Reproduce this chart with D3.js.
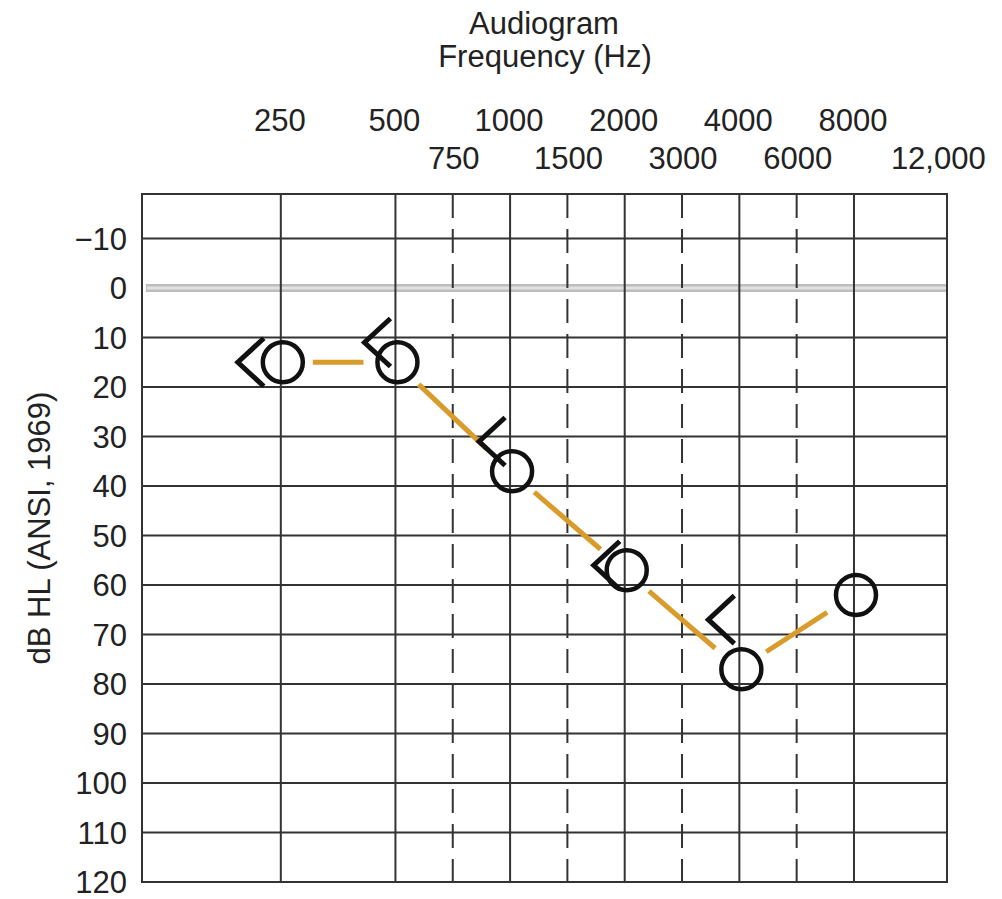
<!DOCTYPE html>
<html>
<head>
<meta charset="utf-8">
<script src="https://cdn.jsdelivr.net/npm/d3@7"></script>
<style>
  body { margin: 0; background: #fff; }
  text { font-family: "Liberation Sans", Arial, Helvetica, sans-serif; fill: #222; }
</style>
</head>
<body>
<svg id="chart" width="1002" height="899"></svg>
<script>
// octave frequencies (solid lines, top row of labels)
var octaves = [250, 500, 1000, 2000, 4000, 8000];
// half-octave frequencies (dashed lines, second row of labels)
var halfOctaves = [750, 1500, 3000, 6000];
var extraLabel = "12,000";
// hearing level ticks
var dbTicks = [-10, 0, 10, 20, 30, 40, 50, 60, 70, 80, 90, 100, 110, 120];

// air conduction thresholds (O, right ear)
var airFreq = [250, 500, 1000, 2000, 4000, 8000];
var airDb = [15, 15, 37, 57, 77, 62];
// bone conduction thresholds (<, unmasked)
var boneFreq = [250, 500, 1000, 2000, 4000];
var boneDb = [15, 11, 31, 56, 67];

var svg = d3.select("#chart");
// note: "top" is reserved on window, so use plotX/plotY names
var plotL = 142, plotR = 947, plotT = 194, plotB = 882;

var x = d3.scaleLog().base(2).domain([108, 14040]).range([plotL, plotR]);
var y = d3.scaleLinear().domain([-19, 120]).range([plotT, plotB]);

// half octave lines sit midway between octaves on the chart
function halfX(f) { return x(f / 1.5 * Math.SQRT2); }

var ink = "#333";

// title
svg.append("text").attr("x", 544).attr("y", 34).attr("text-anchor", "middle")
	.attr("font-size", 31).text("Audiogram");
svg.append("text").attr("x", 545).attr("y", 67).attr("text-anchor", "middle")
	.attr("font-size", 31).text("Frequency (Hz)");

// frequency labels
svg.selectAll(".oct-label").data(octaves).enter().append("text")
	.attr("class", "oct-label")
	.attr("x", function(d) { return x(d) - 1; })
	.attr("y", 131)
	.attr("text-anchor", "middle")
	.attr("font-size", 31)
	.text(function(d) { return d; });
svg.selectAll(".half-label").data(halfOctaves).enter().append("text")
	.attr("class", "half-label")
	.attr("x", function(d) { return halfX(d) + 1; })
	.attr("y", 169)
	.attr("text-anchor", "middle")
	.attr("font-size", 31)
	.text(function(d) { return d; });
svg.append("text")
	.attr("x", halfX(12000) + 27)
	.attr("y", 169)
	.attr("text-anchor", "middle")
	.attr("font-size", 31)
	.text(extraLabel);

// horizontal grid
svg.selectAll(".hgrid").data(dbTicks.filter(function(d) { return d !== 0 && d !== 120; }))
	.enter().append("line")
	.attr("x1", plotL).attr("x2", plotR)
	.attr("y1", function(d) { return y(d); })
	.attr("y2", function(d) { return y(d); })
	.attr("stroke", ink).attr("stroke-width", 2);

// 0 dB reference line
svg.append("line")
	.attr("x1", plotL + 4).attr("x2", plotR)
	.attr("y1", y(0)).attr("y2", y(0))
	.attr("stroke", "#bdbdbd").attr("stroke-width", 8);
svg.append("line")
	.attr("x1", plotL + 5).attr("x2", plotR)
	.attr("y1", y(0)).attr("y2", y(0))
	.attr("stroke", "#e2e2e2").attr("stroke-width", 3);

// vertical grid
svg.selectAll(".vgrid").data(octaves).enter().append("line")
	.attr("x1", function(d) { return x(d); })
	.attr("x2", function(d) { return x(d); })
	.attr("y1", plotT).attr("y2", plotB)
	.attr("stroke", ink).attr("stroke-width", 2);
svg.selectAll(".vdash").data(halfOctaves).enter().append("line")
	.attr("x1", function(d) { return halfX(d); })
	.attr("x2", function(d) { return halfX(d); })
	.attr("y1", plotT).attr("y2", plotB)
	.attr("stroke", ink).attr("stroke-width", 2)
	.attr("stroke-dasharray", "24,11");

// frame
svg.append("rect")
	.attr("x", plotL).attr("y", plotT)
	.attr("width", plotR - plotL).attr("height", plotB - plotT)
	.attr("fill", "none").attr("stroke", ink).attr("stroke-width", 2);

// y tick labels
svg.selectAll(".ylab").data(dbTicks).enter().append("text")
	.attr("x", 127)
	.attr("y", function(d) { return y(d); })
	.attr("dy", "0.36em")
	.attr("text-anchor", "end")
	.attr("font-size", 31)
	.text(function(d) { return d < 0 ? "\u2212" + Math.abs(d) : d; });

// y axis title
svg.append("text")
	.attr("transform", "translate(50,528) rotate(-90)")
	.attr("text-anchor", "middle")
	.attr("font-size", 31)
	.text("dB HL (ANSI, 1969)");

// connecting line between air conduction symbols, trimmed near the circles
var pts = airFreq.map(function(f, i) { return [x(f), y(airDb[i])]; });
var gap = 32;
var segs = d3.pairs(pts).map(function(p) {
	var dx = p[1][0] - p[0][0], dy = p[1][1] - p[0][1];
	var len = Math.sqrt(dx * dx + dy * dy);
	var ux = dx / len, uy = dy / len;
	return [p[0][0] + ux * gap, p[0][1] + uy * gap, p[1][0] - ux * gap, p[1][1] - uy * gap];
});
svg.selectAll(".seg").data(segs).enter().append("line")
	.attr("x1", function(d) { return d[0]; })
	.attr("y1", function(d) { return d[1]; })
	.attr("x2", function(d) { return d[2]; })
	.attr("y2", function(d) { return d[3]; })
	.attr("stroke", "#d99c2b").attr("stroke-width", 5);

// bone conduction "<" symbols, drawn to the left of the frequency line
var bw = 26, bh = 24;
svg.selectAll(".bone").data(boneFreq).enter().append("path")
	.attr("d", function(f, i) {
		var cx = x(f) - (i === 0 ? 17 : 5), cy = y(boneDb[i]);
		return "M" + cx + "," + (cy - bh) + "L" + (cx - bw) + "," + cy + "L" + cx + "," + (cy + bh);
	})
	.attr("fill", "none").attr("stroke", "#111").attr("stroke-width", 5)
	.attr("stroke-linejoin", "miter");

// air conduction circles
svg.selectAll(".air").data(airFreq).enter().append("circle")
	.attr("cx", function(f) { return x(f) + 2; })
	.attr("cy", function(f, i) { return y(airDb[i]); })
	.attr("r", 20)
	.attr("fill", "none").attr("stroke", "#111").attr("stroke-width", 4.5);
</script>
</body>
</html>
